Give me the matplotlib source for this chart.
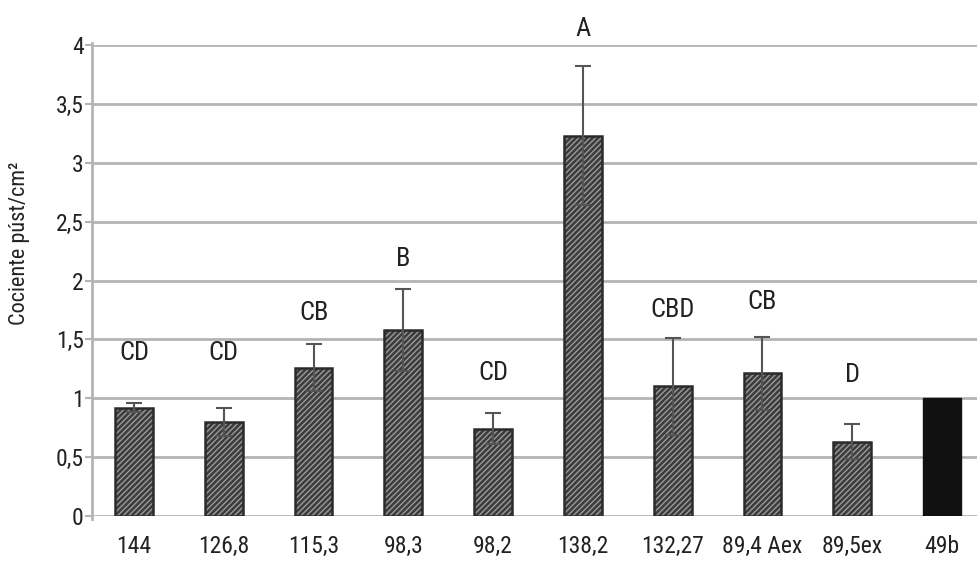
import matplotlib
matplotlib.use("Agg")
import matplotlib.pyplot as plt
from matplotlib import font_manager

categories = ["144", "126,8", "115,3", "98,3", "98,2", "138,2", "132,27", "89,4 Aex", "89,5ex", "49b"]
values = [0.92, 0.80, 1.26, 1.58, 0.74, 3.23, 1.10, 1.21, 0.63, 1.00]
errors = [0.04, 0.12, 0.20, 0.35, 0.13, 0.59, 0.41, 0.31, 0.15, 0.0]
letters = ["CD", "CD", "CB", "B", "CD", "A", "CBD", "CB", "D", ""]
letter_y = [1.38, 1.38, 1.72, 2.18, 1.21, 4.14, 1.75, 1.82, 1.20, 0]
yticks = [0, 0.5, 1, 1.5, 2, 2.5, 3, 3.5, 4]
ytick_labels = ["0", "0,5", "1", "1,5", "2", "2,5", "3", "3,5", "4"]

names = {f.name for f in font_manager.fontManager.ttflist}
fam = "Liberation Sans Narrow" if "Liberation Sans Narrow" in names else "Roboto Condensed" if "Roboto Condensed" in names else "DejaVu Sans"
plt.rcParams['font.family'] = [fam, 'DejaVu Sans']
plt.rcParams['hatch.linewidth'] = 1.0

fig = plt.figure(figsize=(9.77, 5.65), dpi=100)
ax = fig.add_axes([0.094, 0.087, 0.906, 0.833])

x = list(range(len(categories)))
grid_c = "#b4b4b4"
for t in yticks:
    ax.axhline(t, color=grid_c, lw=2, zorder=0)

hatched = [i for i in x if i < len(x) - 1]
ax.bar([x[i] for i in hatched], [values[i] for i in hatched], width=0.42,
       color="#3c3c3c", edgecolor="#9a9a9a", hatch="//////", lw=0, zorder=2)
ax.bar([x[i] for i in hatched], [values[i] for i in hatched], width=0.42,
       fill=False, edgecolor="#2a2a2a", lw=1.8, zorder=3)
ax.bar([x[-1]], [values[-1]], width=0.42, color="#111111", edgecolor="#111111", zorder=3)

ax.errorbar([x[i] for i in hatched], [values[i] for i in hatched],
            yerr=[errors[i] for i in hatched], fmt="none", ecolor="#555555",
            elinewidth=1.5, capsize=6, capthick=1.5, zorder=4)

for xi, lab, ly in zip(x, letters, letter_y):
    if lab:
        ax.text(xi, ly, lab, ha="center", va="center", fontsize=19, color="#222222",
                clip_on=False)

ax.set_xlim(-0.47, 9.39)
ax.set_ylim(0, 4)
ax.set_yticks(yticks)
ax.set_yticklabels(ytick_labels, fontsize=17, color="#222222")
ax.set_xticks(x)
ax.set_xticklabels(categories, fontsize=17, color="#222222")
ax.tick_params(axis="x", length=0, pad=14)
ax.tick_params(axis="y", length=5, width=1.5, color=grid_c, pad=1)
for s in ["top", "right", "bottom"]:
    ax.spines[s].set_visible(False)
ax.spines["left"].set_color(grid_c)
ax.spines["left"].set_linewidth(2)
ax.spines["left"].set_bounds(-0.03, 4.02)
ax.set_ylabel("Cociente púst/cm²", fontsize=16, color="#222222")
ax.yaxis.set_label_coords(-0.07, 0.58)

fig.savefig("out.png", dpi=100)
